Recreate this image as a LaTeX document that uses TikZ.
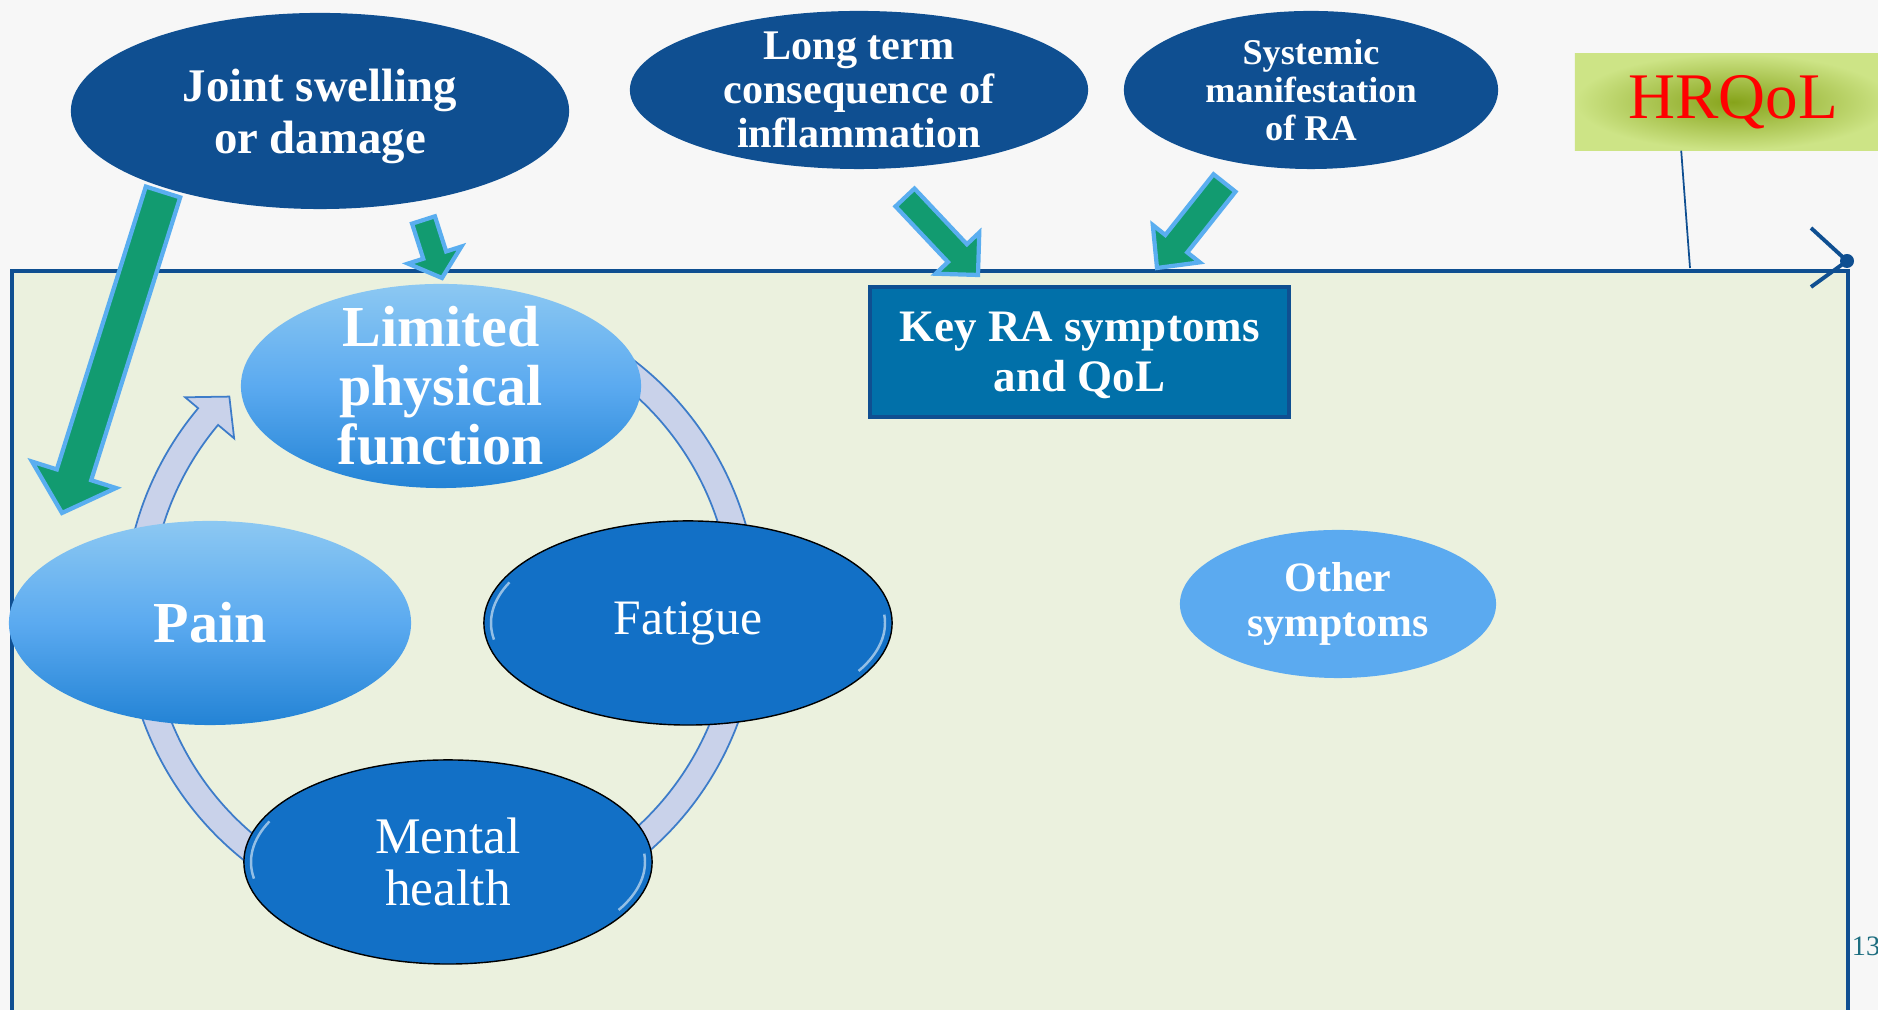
\documentclass[tikz,border=0pt]{standalone}
\usepackage{fontspec}
\setmainfont{Liberation Serif}
\usetikzlibrary{shapes.geometric,calc}
\definecolor{darkblue}{HTML}{0F4F91}
\definecolor{rectfill}{HTML}{EBF1DE}
\definecolor{keyblue}{HTML}{0170A9}
\definecolor{arrgreen}{HTML}{129B70}
\definecolor{arredge}{HTML}{5AAEF0}
\definecolor{ringfill}{HTML}{C9D2EA}
\definecolor{ringedge}{HTML}{3D7CC9}
\definecolor{midblue}{HTML}{1270C6}
\definecolor{paleblue}{HTML}{5BAAF0}
\definecolor{lightblue}{HTML}{8CC8F2}
\definecolor{deepblue}{HTML}{2383D5}
\definecolor{hqlight}{HTML}{CDE486}
\definecolor{hqdark}{HTML}{86A31A}
\definecolor{pagenum}{HTML}{1E6E80}
\tikzset{
  blob/.style={ellipse,inner sep=-12pt,align=center,text=white},
  cause/.style={blob,fill=darkblue},
  sym/.style={blob,fill=midblue,draw=black,thin},
  soft/.style={blob,top color=lightblue,bottom color=deepblue,middle color=paleblue},
  garrow/.style={fill=arrgreen,draw=arredge,line width=1.2pt,line join=miter},
  ring/.style={fill=ringfill,draw=ringedge,line width=0.5pt},
  gloss/.style={draw=white!55!midblue,line width=0.7pt}
}
\newcommand*{\fs}[2]{\fontsize{#1}{#2}\selectfont}
\newcommand*{\blockarrow}[5]{%
  \coordinate (ba) at ($(#2)!#5!(#1)$);
  \filldraw[garrow] ($(#1)!#3!90:(#2)$) -- ($(ba)!#3!90:(#2)$) -- ($(ba)!#4!90:(#2)$) -- (#2)
    -- ($(ba)!#4!-90:(#2)$) -- ($(ba)!#3!-90:(#2)$) -- ($(#1)!#3!-90:(#2)$) -- cycle;}

\begin{document}
\begin{tikzpicture}[x=0.01cm,y=0.01cm]
\path[use as bounding box,clip] (0,0) rectangle (1878,1010);
\fill[gray!6] (0,0) rectangle (1878,1010);
\filldraw[fill=rectfill,draw=darkblue,line width=1.2pt] (12,-20) rectangle (1848,739);
\coordinate (C) at (441,398);
\draw[ring] ($(C)+(115:317)$) arc[start angle=115,end angle=-170,radius=317]
  -- ($(C)+(-170:291)$) arc[start angle=-170,end angle=115,radius=291] -- cycle;
\draw[ring] ($(C)+(185:317)$) arc[start angle=185,end angle=140,radius=317]
  -- ($(C)+(140:334)$) -- ($(C)+(134.5:302)$) -- ($(C)+(140:270)$)
  -- ($(C)+(140:291)$) arc[start angle=140,end angle=185,radius=291] -- cycle;

\node[cause,minimum width=4.98cm,minimum height=1.96cm,text depth=0pt,font=\bfseries\fs{13.3}{14.8}] (joint) at (320,899) {Joint swelling\\or damage};
\node[cause,minimum width=4.58cm,minimum height=1.58cm,font=\bfseries\fs{12}{12.6}] (long) at (859,920) {Long term\\consequence of\\inflammation};
\node[cause,minimum width=3.74cm,minimum height=1.58cm,font=\bfseries\fs{10.3}{10.9}] (syst) at (1311,920) {Systemic\\manifestation\\of RA};
\node[inner color=hqdark,outer color=hqlight,minimum width=3.16cm,minimum height=0.96cm,text=red,font=\fs{18.5}{20}] (hrqol) at (1733,908) {HRQoL};
\node[fill=keyblue,draw=darkblue,line width=1.1pt,minimum width=4.19cm,minimum height=1.30cm,align=center,text depth=0pt,text=white,font=\bfseries\fs{12.8}{14.2}] (key) at (1079.5,658) {Key RA symptoms\\and QoL};

\node[soft,minimum width=4.00cm,minimum height=2.04cm,font=\bfseries\fs{16.5}{16.8}] (limited) at (441,624) {Limited\\physical\\function};
\node[soft,minimum width=4.02cm,minimum height=2.04cm,font=\bfseries\fs{16.5}{17}] (pain) at (210,387) {Pain};
\node[sym,minimum width=4.08cm,minimum height=2.04cm,font=\fs{14.1}{15}] (fatigue) at (688,387) {Fatigue};
\node[sym,minimum width=4.08cm,minimum height=2.04cm,font=\fs{14.6}{14.7}] (mental) at (448,148) {Mental\\health};
\foreach \n in {fatigue,mental} {
  \draw[gloss] ($(\n)+(155:197 and 96)$) arc[start angle=155,end angle=190,x radius=197,y radius=96];
  \draw[gloss] ($(\n)+(-30:197 and 96)$) arc[start angle=-30,end angle=5,x radius=197,y radius=96];
}
\node[blob,fill=paleblue,minimum width=3.16cm,minimum height=1.48cm,font=\bfseries\fs{11.9}{12.6}] (other) at (1338,406) {Other\\symptoms};

\coordinate (hq) at (1690,742);
\draw[darkblue,line width=0.5pt] (hrqol.south west) ++(107,0) -- (hq);
\draw[darkblue,line width=1.1pt] (1811,782) -- (1847,749) -- (1811,723);
\fill[darkblue] (1847,749) circle (7);

\coordinate (jt) at (163,818);
\coordinate (jp) at (62,497);
\coordinate (jt2) at (423.5,790);
\coordinate (jp2) at (442,732);
\coordinate (lt) at (905,812.5);
\coordinate (lp) at (978,735);
\coordinate (st) at (1224.5,827);
\coordinate (sp) at (1157,742);
\blockarrow{jt}{jp}{0.18cm}{0.44cm}{0.40cm}
\blockarrow{jt2}{jp2}{0.12cm}{0.28cm}{0.24cm}
\blockarrow{lt}{lp}{0.13cm}{0.30cm}{0.30cm}
\blockarrow{st}{sp}{0.14cm}{0.30cm}{0.31cm}

\node[text=pagenum,font=\fs{8}{9}] (page) at (1866,64) {13};
\end{tikzpicture}
\end{document}
